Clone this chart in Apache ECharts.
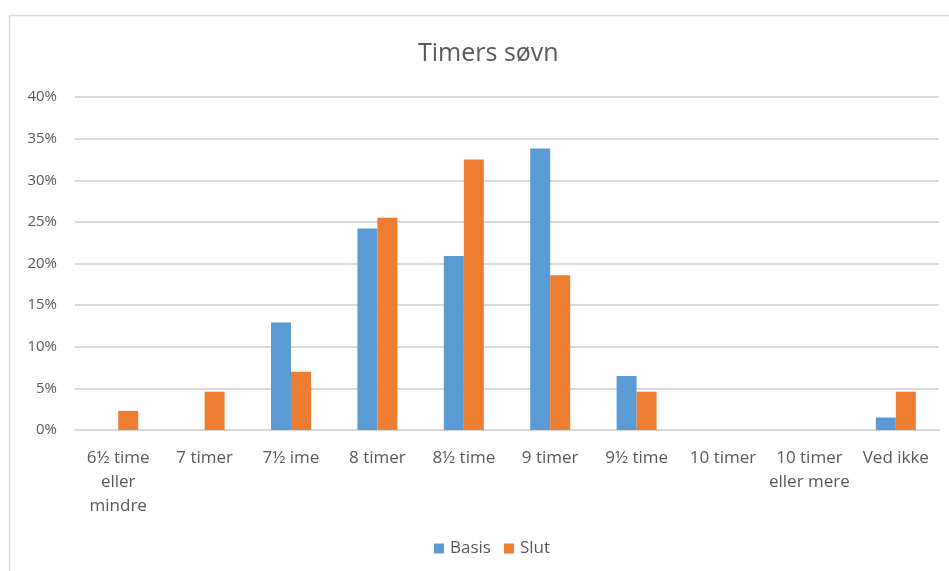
<!DOCTYPE html>
<html>
<head>
<meta charset="utf-8">
<script src="https://cdn.jsdelivr.net/npm/echarts@6/dist/echarts.min.js"></script>
<style>html,body{margin:0;padding:0;background:#fff;}#c{width:949px;height:571px;}</style>
</head>
<body>
<div id="c"></div>
<script>
const categories = ["6½ time\neller\nmindre", "7 timer", "7½ ime", "8 timer", "8½ time", "9 timer", "9½ time", "10 timer", "10 timer\neller mere", "Ved ikke"];
const basis = [0, 0, 12.9, 24.2, 20.9, 33.8, 6.5, 0, 0, 1.5];
const slut = [2.3, 4.6, 7.0, 25.5, 32.5, 18.6, 4.6, 0, 0, 4.6];
const yTicks = { min: 0, max: 40, interval: 5 };

const chart = echarts.init(document.getElementById('c'), null, { renderer: 'canvas' });
const txt = '#595959';
chart.setOption({
  animation: false,
  backgroundColor: '#fff',
  graphic: [{
    type: 'rect', silent: true, z: -1,
    shape: { x: 9.5, y: 15.5, width: 1000, height: 700 },
    style: { fill: 'none', stroke: '#d9d9d9', lineWidth: 1.5 }
  }],
  title: {
    text: 'Timers søvn', left: 413, top: 36,
    textStyle: { fontFamily: 'Open Sans', fontWeight: 'normal', fontSize: 25, color: txt }
  },
  legend: {
    bottom: 9, left: 429, itemWidth: 10, itemHeight: 10, itemGap: 13,
    icon: 'rect',
    textStyle: { fontFamily: 'Open Sans', fontSize: 17, color: txt, padding: [0, 0, 0, 1] },
    data: ['Basis', 'Slut']
  },
  grid: { left: 75, right: 10, top: 97, bottom: 141 },
  xAxis: {
    type: 'category', data: categories,
    axisLine: { lineStyle: { color: '#d9d9d9', width: 2 } },
    axisTick: { show: false },
    axisLabel: { interval: 0, margin: 16, lineHeight: 24, fontFamily: 'Open Sans', fontSize: 17, color: txt }
  },
  yAxis: {
    type: 'value', min: yTicks.min, max: yTicks.max, interval: yTicks.interval,
    axisLabel: { formatter: '{value}%', fontFamily: 'Open Sans', fontSize: 15, color: txt, margin: 18 },
    splitLine: { lineStyle: { color: '#d9d9d9', width: 2 } },
    axisLine: { show: false }, axisTick: { show: false }
  },
  series: [
    { name: 'Basis', type: 'bar', data: basis, barWidth: 20, barGap: '0%',
      itemStyle: { color: '#5b9bd5' } },
    { name: 'Slut', type: 'bar', data: slut, barWidth: 20, barGap: '0%',
      itemStyle: { color: '#ed7d31' } }
  ]
});
</script>
</body>
</html>
